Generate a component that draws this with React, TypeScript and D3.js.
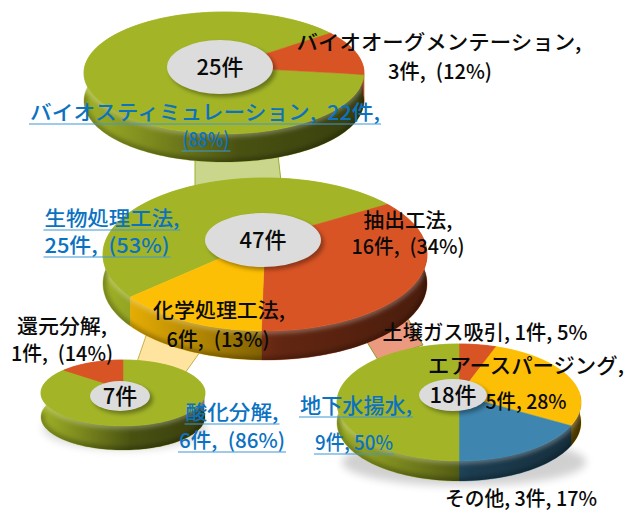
import React from "react";
import * as d3 from "d3";

// Case counts per treatment group, listed clockwise around each disc
const bioNames = ["バイオスティミュレーション", "バイオオーグメンテーション"];
const bioCounts = [22, 3];
const methodNames = ["生物処理工法", "抽出工法", "化学処理工法"];
const methodCounts = [25, 16, 6];
const chemNames = ["酸化分解", "還元分解"];
const chemCounts = [6, 1];
const extractNames = ["土壌ガス吸引", "エアースパージング", "その他", "地下水揚水"];
const extractCounts = [1, 5, 3, 9];

const GREEN = "#a3b527";
const RED = "#d95425";
const AMBER = "#fdbf05";
const BLUE = "#3e86b0";
const bioColors = [GREEN, RED];
const methodColors = [GREEN, RED, AMBER];
const chemColors = [GREEN, RED];
const extractColors = [RED, AMBER, BLUE, GREEN];

const FONT = "'Noto Sans CJK JP', sans-serif";
const LINK = "#0b72c2";
const INK = "#0a0a0a";
const GAP = "\u2002";

type Geo = {
  id: string; cx: number; top: number; apex: number; bottom: number; half: number; depth: number;
  start: number; hub: [number, number, number, number]; total: string; hubSize: number;
};

// Perspective disc: a unit circle projected so its centre falls on the apex
function projector(g: Geo) {
  const up = g.apex - g.top;
  const down = g.bottom - g.apex;
  const k = (down - up) / (down + up);
  const S = up * (1 + k);
  const R = g.half * Math.sqrt(1 - k * k);
  return (a: number): [number, number] => {
    const u = Math.sin(a);
    const v = -Math.cos(a);
    const d = 1 - k * v;
    return [g.cx + (R * u) / d, g.apex + (S * v) / d];
  };
}

const deg = (x: number) => (x * Math.PI) / 180;
const lineGen = d3.line<[number, number]>();

function arcSamples(a0: number, a1: number) {
  const n = Math.max(2, Math.ceil(Math.abs(a1 - a0) / 0.03));
  return d3.range(n + 1).map((i) => a0 + ((a1 - a0) * i) / n);
}

function Disc({ g, counts, colors }: { g: Geo; counts: number[]; colors: string[] }) {
  const project = projector(g);
  const slices = d3
    .pie<number>()
    .sort(null)
    .startAngle(deg(g.start))
    .endAngle(deg(g.start + 360))(counts);
  const shift = ([x, y]: [number, number]): [number, number] => [x, y + g.depth];
  const lower = arcSamples(deg(90), deg(270)).map(project);
  const bandOutline = lineGen([...lower, ...lower.map(shift).reverse()]) + "Z";
  const x0 = g.cx - g.half;
  const x1 = g.cx + g.half;
  return (
    <g>
      <defs>
        <linearGradient id={`shade-${g.id}`} gradientUnits="userSpaceOnUse" x1={x0} x2={x1} y1="0" y2="0">
          <stop offset="0" stopColor="#000" stopOpacity="0.02" />
          <stop offset="0.25" stopColor="#000" stopOpacity="0.25" />
          <stop offset="0.55" stopColor="#000" stopOpacity="0.55" />
          <stop offset="1" stopColor="#000" stopOpacity="0.66" />
        </linearGradient>
        <clipPath id={`band-${g.id}`}>
          <path d={bandOutline} />
        </clipPath>
        <filter id={`soft-${g.id}`} x="-20%" y="-20%" width="140%" height="140%">
          <feGaussianBlur stdDeviation="2" />
        </filter>
      </defs>
      {slices.map((s, i) => {
        const top = arcSamples(s.startAngle, s.endAngle).map(project);
        return (
          <path key={i} d={lineGen([...top, ...top.map(shift).reverse()]) + "Z"} fill={colors[i]} stroke={colors[i]} strokeWidth={0.5} />
        );
      })}
      <path d={bandOutline} fill={`url(#shade-${g.id})`} />
      <g clipPath={`url(#band-${g.id})`}>
        <path d={lineGen(lower) ?? ""} fill="none" stroke="#fff" strokeOpacity={0.28} strokeWidth={6} filter={`url(#soft-${g.id})`} />
        <path d={lineGen(lower.map(shift)) ?? ""} fill="none" stroke="#000" strokeOpacity={0.25} strokeWidth={7} filter={`url(#soft-${g.id})`} />
      </g>
      {slices.map((s, i) => {
        const rim = arcSamples(s.startAngle, s.endAngle).map(project);
        return <path key={i} d={lineGen([[g.cx, g.apex], ...rim]) + "Z"} fill={colors[i]} stroke={colors[i]} strokeWidth={0.5} />;
      })}
      <ellipse cx={g.hub[0] + 3} cy={g.hub[1] + 3} rx={g.hub[2]} ry={g.hub[3]} fill="#000" opacity={0.35} filter={`url(#soft-${g.id})`} />
      <ellipse cx={g.hub[0]} cy={g.hub[1]} rx={g.hub[2]} ry={g.hub[3]} fill="#dcdcdc" />
      <text x={g.hub[0]} y={g.hub[1]} dy="0.36em" textAnchor="middle" fontFamily={FONT} fontWeight={500} fontSize={g.hubSize} fill={INK}>
        {g.total}
      </text>
    </g>
  );
}

const discs: { g: Geo; counts: number[]; colors: string[] }[] = [
  { g: { id: "bio", cx: 224, top: 12, apex: 67, bottom: 134, half: 140, depth: 28, start: 97, hub: [220, 67, 53, 27], total: "25件", hubSize: 22 }, counts: bioCounts, colors: bioColors },
  { g: { id: "method", cx: 265, top: 178, apex: 239, bottom: 331, half: 162, depth: 29, start: 227, hub: [263, 240, 58, 27], total: "47件", hubSize: 22 }, counts: methodCounts, colors: methodColors },
  { g: { id: "chem", cx: 123, top: 360, apex: 389, bottom: 426, half: 82, depth: 24, start: 0, hub: [120, 396, 30, 15], total: "7件", hubSize: 22 }, counts: chemCounts, colors: chemColors },
  { g: { id: "extract", cx: 459, top: 344, apex: 395, bottom: 461, half: 122, depth: 20, start: 0, hub: [453, 395, 34, 16], total: "18件", hubSize: 22 }, counts: extractCounts, colors: extractColors },
];

// Translucent bridges that tie a slice to the disc that breaks it down
const bridges = [
  { pts: "195,155 278,155 282,190 195,190", fill: "#c9d68c", edge: "#9cae2c" },
  { pts: "147,333 200,352 185,373 137,362", fill: "#ffe4a0", edge: "#c9ae4a" },
  { pts: "367,342 407,317 423,345 378,360", fill: "#ec9a7f", edge: "#8d9c26" },
];

const labelRows = [
  { t: `${bioNames[1]},`, x: 439, y: 50, w: 285, c: INK, s: 20.5 },
  { t: `${bioCounts[1]}件,${GAP}(12%)`, x: 440, y: 79, w: 104, c: INK, s: 20.5 },
  { t: `${bioNames[0]},${GAP}${bioCounts[0]}件,`, x: 205, y: 120, w: 350, c: LINK, s: 20.5, u: true },
  { t: "(88%)", x: 206, y: 147, w: 47, c: LINK, s: 20.5, u: true },
  { t: `${methodNames[0]},`, x: 112, y: 226, w: 135, c: LINK, s: 20.5, u: true },
  { t: `${methodCounts[0]}件,${GAP}(53%)`, x: 107, y: 253, w: 125, c: LINK, s: 20.5, u: true },
  { t: `${methodNames[1]},`, x: 408, y: 228, w: 89, c: INK, s: 20.5 },
  { t: `${methodCounts[1]}件,${GAP}(34%)`, x: 408, y: 254, w: 113, c: INK, s: 20.5 },
  { t: `${methodNames[2]},`, x: 219, y: 318, w: 132, c: INK, s: 20.5 },
  { t: `${methodCounts[2]}件,${GAP}(13%)`, x: 218, y: 347, w: 103, c: INK, s: 20.5 },
  { t: `${chemNames[1]},`, x: 62, y: 334, w: 90, c: INK, s: 20.5 },
  { t: `${chemCounts[1]}件,${GAP}(14%)`, x: 62, y: 361, w: 102, c: INK, s: 20.5 },
  { t: `${chemNames[0]},`, x: 232, y: 420, w: 93, c: LINK, s: 20.5, u: true },
  { t: `${chemCounts[0]}件,${GAP}(86%)`, x: 232, y: 448, w: 106, c: LINK, s: 20.5, u: true },
  { t: `${extractNames[3]},`, x: 356, y: 413, w: 112, c: LINK, s: 21, u: true },
  { t: `${extractCounts[3]}件, 50%`, x: 354, y: 450, w: 78, c: LINK, s: 20, u: true },
  { t: `${extractNames[0]}, ${extractCounts[0]}件, 5%`, x: 485, y: 340, w: 205, c: INK, s: 20.5 },
  { t: `${extractNames[1]},`, x: 526, y: 373, w: 196, c: INK, s: 21 },
  { t: `${extractCounts[1]}件, 28%`, x: 526, y: 409, w: 81, c: INK, s: 20 },
  { t: `${extractNames[2]}, ${extractCounts[2]}件, 17%`, x: 521, y: 506, w: 152, c: INK, s: 20 },
];

export default function App() {
  return (
    <svg width={634} height={511} style={{ position: "absolute", left: 0, top: 0, background: "#fff" }}>
      <defs>
        <filter id="drop" x="-20%" y="-20%" width="140%" height="140%">
          <feGaussianBlur stdDeviation="4" />
        </filter>
      </defs>
      {bridges.map((b, i) => (
        <polygon key={i} points={b.pts} fill={b.fill} stroke={b.edge} strokeWidth={1} />
      ))}
      <ellipse cx={125} cy={428} rx={82} ry={22} fill="#000" opacity={0.15} filter="url(#drop)" />
      <ellipse cx={464} cy={462} rx={122} ry={24} fill="#000" opacity={0.18} filter="url(#drop)" />
      {discs.map((d) => (
        <Disc key={d.g.id} {...d} />
      ))}
      {labelRows.map((r, i) => (
        <g key={i}>
          <text
            x={r.x}
            y={r.y}
            textAnchor="middle"
            fontFamily={FONT}
            fontWeight={500}
            fontSize={r.s}
            fill={r.c}
            textLength={r.w}
            lengthAdjust="spacingAndGlyphs"
          >
            {r.t}
          </text>
          {r.u && (
            <line x1={r.x - r.w / 2 - 1} x2={r.x + r.w / 2 + 1} y1={r.y + 4} y2={r.y + 4} stroke="#3f97d6" strokeWidth={1.2} />
          )}
        </g>
      ))}
    </svg>
  );
}
